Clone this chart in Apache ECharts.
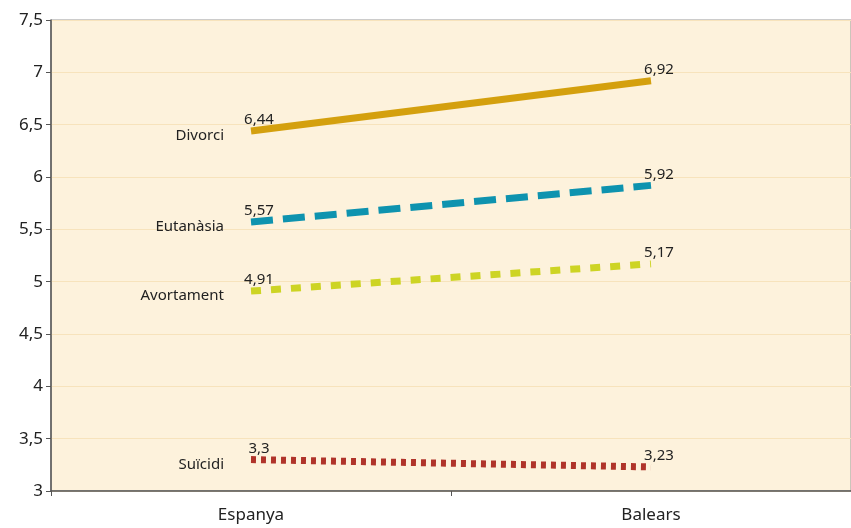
<!DOCTYPE html>
<html>
<head>
<meta charset="utf-8">
<script src="https://cdn.jsdelivr.net/npm/echarts@6/dist/echarts.min.js"></script>
<style>
  html, body { margin: 0; padding: 0; background: #fff; }
  #chart { width: 851px; height: 528px; }
</style>
</head>
<body>
<div id="chart"></div>
<script>
var categories = ['Espanya', 'Balears'];
var divorci = [6.44, 6.92];
var eutanasia = [5.57, 5.92];
var avortament = [4.91, 5.17];
var suicidi = [3.3, 3.23];

function comma(v) {
  return String(v).replace('.', ',');
}

function makeSeries(name, data, color, dash) {
  return {
    name: name,
    type: 'line',
    data: data,
    symbol: 'circle',
    symbolSize: 1,
    showSymbol: true,
    itemStyle: { color: 'rgba(0,0,0,0)' },
    lineStyle: { color: color, width: 7, type: dash, cap: 'butt' },
    label: {
      show: true,
      position: 'top',
      distance: 3,
      offset: [8, 0],
      color: '#222',
      fontFamily: 'Noto Sans',
      fontSize: 15,
      formatter: function (p) { return comma(p.value); }
    },
    markPoint: {
      symbol: 'circle',
      symbolSize: 0,
      silent: true,
      data: [{ coord: [0, data[0]] }],
      label: {
        show: true,
        position: 'left',
        distance: 27,
        offset: [0, 5],
        color: '#222',
        fontFamily: 'Noto Sans',
        fontSize: 15,
        formatter: name
      }
    },
    z: 3
  };
}

var chart = echarts.init(document.getElementById('chart'));
chart.setOption({
  animation: false,
  grid: {
    left: 51, top: 20, width: 806, height: 471,
    show: true,
    backgroundColor: '#FDF2DC',
    borderWidth: 1,
    borderColor: '#999'
  },
  xAxis: {
    type: 'category',
    data: categories,
    boundaryGap: true,
    axisLine: { lineStyle: { color: '#555', width: 1.5 } },
    axisTick: { show: true, length: 5, lineStyle: { color: '#555' } },
    axisLabel: { color: '#222', fontFamily: 'Noto Sans', fontSize: 17, margin: 16 }
  },
  yAxis: {
    type: 'value',
    min: 3,
    max: 7.5,
    interval: 0.5,
    axisLine: { show: true, lineStyle: { color: '#555', width: 1.5 } },
    axisTick: { show: true, length: 5, lineStyle: { color: '#555' } },
    axisLabel: {
      color: '#222', fontFamily: 'Noto Sans', fontSize: 17, margin: 8,
      formatter: function (v) { return comma(v); }
    },
    splitLine: { show: true, lineStyle: { color: '#F7E3BC', width: 1 } }
  },
  series: [
    makeSeries('Divorci', divorci, '#D4A00E', 'solid'),
    makeSeries('Eutanàsia', eutanasia, '#0E93AF', [22, 10]),
    makeSeries('Avortament', avortament, '#CDD424', [10, 10]),
    makeSeries('Suïcidi', suicidi, '#B0342A', [5, 5])
  ]
});
</script>
</body>
</html>
